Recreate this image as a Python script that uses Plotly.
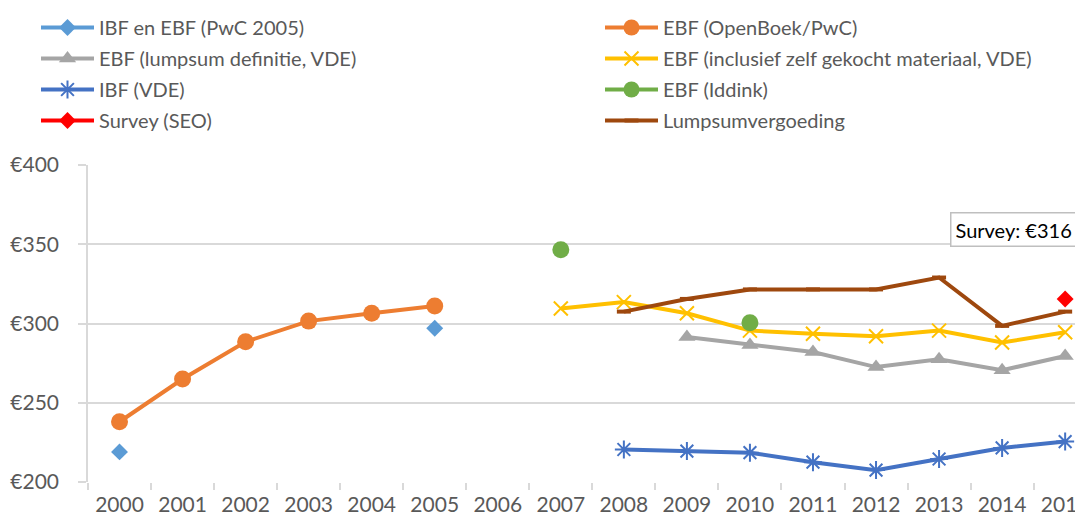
import plotly.graph_objects as go

years = [str(y) for y in range(2000, 2016)]

ibf_ebf_pwc = [219, None, None, None, None, 297] + [None] * 10
ebf_openboek = [238, 265, 288.5, 301.5, 306.5, 311] + [None] * 10
ebf_lumpsum_def = [None] * 9 + [291.5, 286.5, 282, 272.5, 277.5, 270.5, 279.5]
ebf_incl = [None] * 7 + [309.5, 313.5, 306.5, 295.5, 293.5, 292, 295.5, 288, 294.5]
ibf_vde = [None] * 8 + [220.5, 219.5, 218.5, 212.5, 207.5, 214.5, 221.5, 225.5]
ebf_iddink = [None] * 7 + [346.5, None, None, 300.5] + [None] * 5
survey_seo = [None] * 15 + [315.5]
lumpsum = [None] * 8 + [307.5, 315.5, 321.5, 321.5, 321.5, 329, 298.5, 307.5]

font = "Lato, 'Liberation Sans', sans-serif"
txt = "#595959"
grid = "#d9d9d9"

# (name, values, colour, marker, legend column)
series = [
    ("IBF en EBF (PwC 2005)", ibf_ebf_pwc, "#5B9BD5", dict(symbol="diamond", size=13), "legend"),
    ("EBF (OpenBoek/PwC)", ebf_openboek, "#ED7D31", dict(symbol="circle", size=17), "legend2"),
    ("EBF (lumpsum definitie, VDE)", ebf_lumpsum_def, "#A5A5A5",
     dict(symbol="triangle-up", size=15), "legend"),
    ("EBF (inclusief zelf gekocht materiaal, VDE)", ebf_incl, "#FFC000",
     dict(symbol="x-thin-open", size=14, line=dict(width=2, color="#FFC000")), "legend2"),
    ("IBF (VDE)", ibf_vde, "#4472C4",
     dict(symbol="asterisk-open", size=15, line=dict(width=2, color="#4472C4")), "legend"),
    ("EBF (Iddink)", ebf_iddink, "#70AD47", dict(symbol="circle", size=17), "legend2"),
    ("Survey (SEO)", survey_seo, "#FF0000", dict(symbol="diamond", size=13), "legend"),
    ("Lumpsumvergoeding", lumpsum, "#9E480E",
     dict(symbol="line-ew", size=10, line=dict(width=4, color="#9E480E")), "legend2"),
]

fig = go.Figure()
for name, vals, color, marker, leg in series:
    fig.add_trace(
        go.Scatter(
            x=years,
            y=vals,
            name=name,
            mode="lines+markers",
            line=dict(color=color, width=4),
            marker=dict(color=color, **marker),
            connectgaps=False,
            legend=leg,
            legendgroup=name,
        )
    )

fig.add_annotation(
    x=15,
    y=316,
    xref="x",
    yref="y",
    text="Survey: €316",
    showarrow=False,
    xanchor="right",
    yanchor="bottom",
    xshift=12,
    yshift=51,
    font=dict(family=font, size=20, color="#000000"),
    bordercolor="#bfbfbf",
    borderwidth=1.5,
    borderpad=4,
    bgcolor="white",
)

legend_common = dict(
    orientation="v",
    xref="container",
    yref="container",
    xanchor="left",
    yanchor="top",
    y=1.0075,
    itemwidth=53,
    tracegroupgap=2,
    font=dict(family=font, size=20, color=txt),
    bgcolor="rgba(0,0,0,0)",
)

fig.update_layout(
    width=1083,
    height=518,
    margin=dict(l=80, r=0, t=157, b=44, autoexpand=False),
    paper_bgcolor="white",
    plot_bgcolor="white",
    font=dict(family=font, size=19, color=txt),
    showlegend=True,
    legend=dict(x=28 / 1083, **legend_common),
    legend2=dict(x=592 / 1083, **legend_common),
)
fig.update_xaxes(
    type="category",
    range=[-0.5, 15.41],
    showgrid=False,
    showline=False,
    ticks="outside",
    tickson="boundaries",
    ticklen=7,
    tickcolor=grid,
    tickwidth=1.5,
    ticklabelstandoff=8,
    tickfont=dict(family=font, size=21, color=txt),
    zeroline=False,
)
fig.update_yaxes(
    range=[200, 400],
    dtick=50,
    tickprefix="€",
    showgrid=True,
    gridcolor=grid,
    gridwidth=1.5,
    showline=True,
    linecolor=grid,
    linewidth=1.5,
    ticks="outside",
    ticklen=8,
    tickcolor=grid,
    tickwidth=1.5,
    ticklabelstandoff=15,
    zeroline=False,
    tickfont=dict(family=font, size=21, color=txt),
)

fig.write_html("out.html")
